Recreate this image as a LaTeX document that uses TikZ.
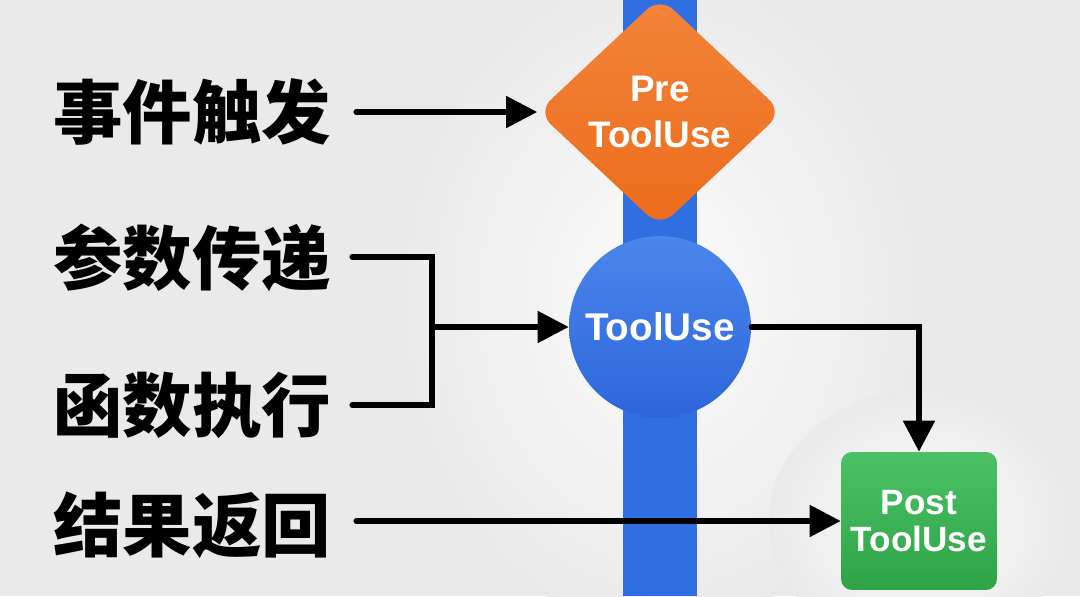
\documentclass[tikz,border=0pt]{standalone}
\usepackage{fontspec}
\setmainfont{Liberation Sans}
\newfontfamily\cjk{Noto Sans CJK SC}
\usetikzlibrary{shapes.geometric,arrows.meta}
\definecolor{bg}{HTML}{EAEAEA}
\definecolor{barblue}{HTML}{2F6FE2}
\definecolor{orangeA}{HTML}{F2843A}
\definecolor{orangeB}{HTML}{EC6C1C}
\definecolor{blueA}{HTML}{4A86EC}
\definecolor{blueB}{HTML}{2E66DA}
\definecolor{greenA}{HTML}{4CC065}
\definecolor{greenB}{HTML}{2FA447}
\begin{document}
\begin{tikzpicture}[x=0.02cm,y=-0.02cm,
  lbl/.style={anchor=west,inner sep=0pt,font=\cjk\bfseries\fontsize{39.5}{41}\selectfont,text=black},
  nodetxt/.style={text=white,font=\bfseries\fontsize{21}{23}\selectfont,align=center,inner sep=0pt},
  conn/.style={line width=2.9pt,line cap=round,line join=miter,black},
  arr/.style={conn,-{Triangle[length=0.62cm,width=0.62cm]}}]
\useasboundingbox (0,0) rectangle (1080,596);
\fill[bg] (0,0) rectangle (1080,596);
% soft halos
\shade[inner color=white!85!bg,outer color=bg] (660,300) ellipse (260 and 330);
\shade[inner color=white!85!bg,outer color=bg] (919,521) ellipse (150 and 130);
% vertical bar
\fill[barblue] (623,0) rectangle (697,596);
% nodes
\node[diamond,minimum width=4.9cm,minimum height=4.6cm,inner sep=0pt,
      top color=orangeA,bottom color=orangeB,rounded corners=0.36cm,nodetxt] (pre) at (660,112) {Pre\\[3pt]ToolUse};
\node[circle,minimum size=3.64cm,inner sep=0pt,top color=blueA,bottom color=blueB,
      nodetxt,font=\bfseries\fontsize{22}{24}\selectfont] (tool) at (660,327) {ToolUse};
\node[rectangle,minimum width=3.12cm,minimum height=2.76cm,rounded corners=0.22cm,
      top color=greenA,bottom color=greenB,nodetxt,font=\bfseries\fontsize{20}{22}\selectfont] (post) at (919,521) {Post\\[-1pt]ToolUse};
% labels
\node[lbl] (l1) at (53,112) {事件触发};
\node[lbl] (l2) at (53,258) {参数传递};
\node[lbl] (l3) at (53,405) {函数执行};
\node[lbl] (l4) at (53,525) {结果返回};
% connector anchors
\coordinate (s1) at (356,112);
\coordinate (s2) at (352,257);
\coordinate (s3) at (352,405);
\coordinate (j) at (432,327);
\coordinate (s4) at (356,521);
% connectors
\draw[arr] (s1) -- (pre.west);
\draw[conn] (s2) -| (j) |- (s3);
\draw[arr] (j) -- (tool.west);
\draw[arr] (tool.east) -| (post.north);
\draw[arr] (s4) -- (post.west);
\end{tikzpicture}
\end{document}
